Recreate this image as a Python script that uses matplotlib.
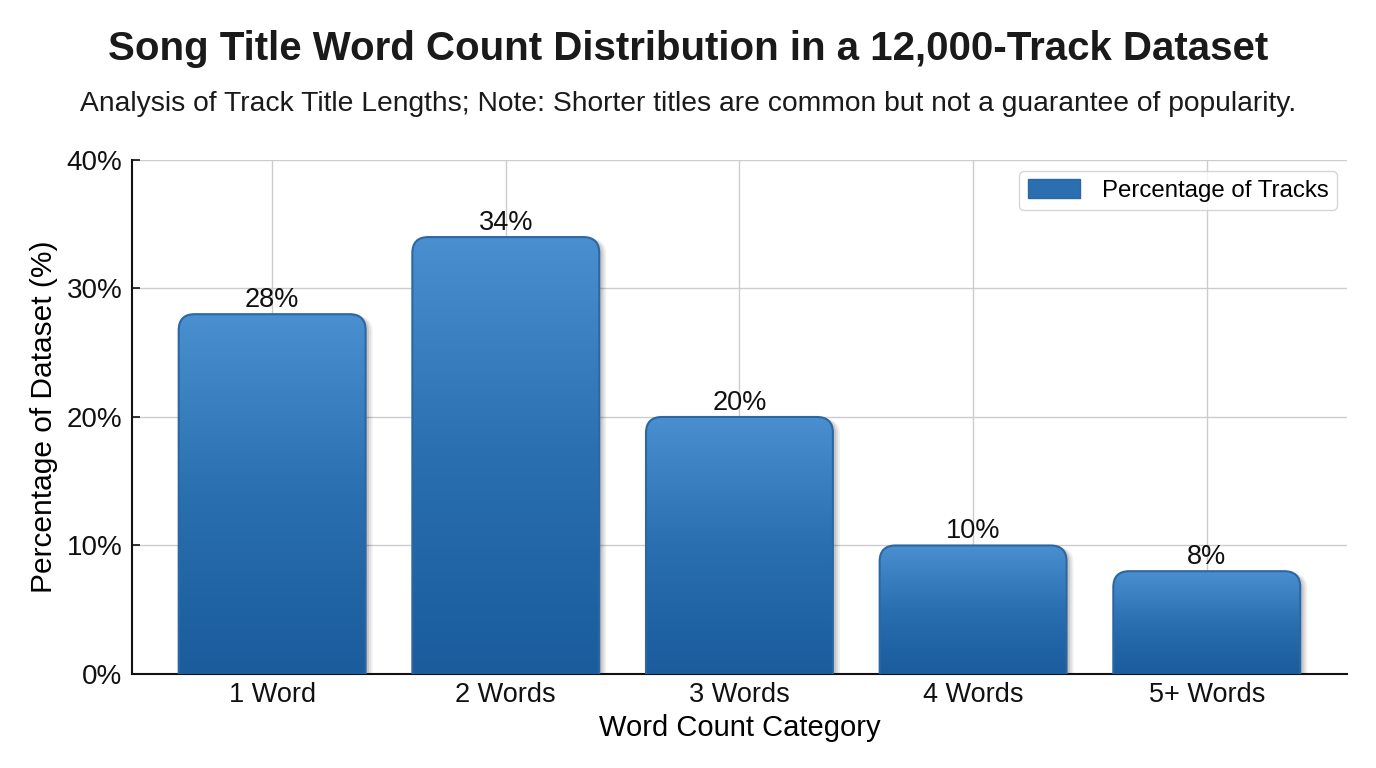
import numpy as np
import matplotlib
matplotlib.use("Agg")
import matplotlib.pyplot as plt
from matplotlib.patches import FancyBboxPatch, Patch
from matplotlib.colors import LinearSegmentedColormap
from matplotlib.ticker import FuncFormatter

plt.rcParams['font.family'] = ['Liberation Sans', 'DejaVu Sans']

categories = ["1 Word", "2 Words", "3 Words", "4 Words", "5+ Words"]
percentages = [28, 34, 20, 10, 8]
yticks = [0, 10, 20, 30, 40]

title = "Song Title Word Count Distribution in a 12,000-Track Dataset"
subtitle = "Analysis of Track Title Lengths; Note: Shorter titles are common but not a guarantee of popularity."

fig = plt.figure(figsize=(13.76, 7.68), dpi=100)
ax = fig.add_axes([0.0959, 0.1224, 0.883, 0.6693])
ax.set_xlim(-0.6, len(categories) - 0.4)
ax.set_ylim(0, 40)

ax.set_axisbelow(True)
ax.grid(True, color="#cccccc", linewidth=1.0)
for s in ["top", "right"]:
    ax.spines[s].set_visible(False)
for s in ["left", "bottom"]:
    ax.spines[s].set_linewidth(1.5)
    ax.spines[s].set_color("#111111")

ax.set_xticks(range(len(categories)))
ax.set_xticklabels(categories, fontsize=19.5)
ax.set_yticks(yticks)
ax.yaxis.set_major_formatter(FuncFormatter(lambda v, p: f"{v:.0f}%"))
ax.tick_params(axis="both", direction="in", length=6, width=1.2, colors="#111111")
ax.tick_params(axis="y", pad=7, labelsize=20)
ax.tick_params(axis="x", pad=6, labelsize=19.5)

ax.set_xlabel("Word Count Category", fontsize=21, labelpad=4)
ax.set_ylabel("Percentage of Dataset (%)", fontsize=21.5, labelpad=6)

cmap = LinearSegmentedColormap.from_list("barg", ["#1a5c9c", "#2a6fb0", "#4a8fcf"])
grad = np.linspace(0, 1, 256).reshape(-1, 1)

width = 0.8
px_x = 0.883 * 1376 / 5.2
px_y = 0.6693 * 768 / 40
aspect = px_x / px_y
r = 16 / px_x

for i, v in enumerate(percentages):
    x0 = i - width / 2
    # shadow
    for k, (dx, a) in enumerate([(0.03, 0.06), (0.022, 0.08), (0.014, 0.10)]):
        sh = FancyBboxPatch((x0 + dx, -3), width, v + 3 - 0.15,
                            boxstyle=f"round,pad=0,rounding_size={r}",
                            mutation_aspect=aspect, facecolor="#000000",
                            edgecolor="none", alpha=a, zorder=2)
        ax.add_patch(sh)
    patch = FancyBboxPatch((x0, -3), width, v + 3,
                           boxstyle=f"round,pad=0,rounding_size={r}",
                           mutation_aspect=aspect, facecolor="none",
                           edgecolor="#2c67a3", linewidth=1.5, zorder=4)
    ax.add_patch(patch)
    im = ax.imshow(grad, cmap=cmap, origin="lower", aspect="auto",
                   extent=[x0, x0 + width, 0, v], zorder=3)
    im.set_clip_path(patch)
    ax.annotate(f"{v}%", (i, v), xytext=(0, 1), textcoords="offset points",
                ha="center", va="bottom", fontsize=19.5, color="#111111", zorder=5)

ax.set_xlim(-0.6, len(categories) - 0.4)
ax.set_ylim(0, 40)

handle = Patch(facecolor="#2a6fb0", edgecolor="#2c67a3", label="Percentage of Tracks")
leg = ax.legend(handles=[handle], loc="upper right", fontsize=17.3, frameon=True,
                fancybox=True, edgecolor="#cccccc", handlelength=2.2, handleheight=0.8,
                borderpad=0.35, handletextpad=0.9, borderaxespad=0,
                bbox_to_anchor=(0.992, 0.979))
leg.get_frame().set_linewidth(1.0)

fig.text(0.5, 0.936, title, ha="center", va="center", fontsize=29, fontweight="bold", color="#1a1a1a")
fig.text(0.5, 0.865, subtitle, ha="center", va="center", fontsize=20.3, color="#1a1a1a")

fig.savefig("out.png", dpi=100)
